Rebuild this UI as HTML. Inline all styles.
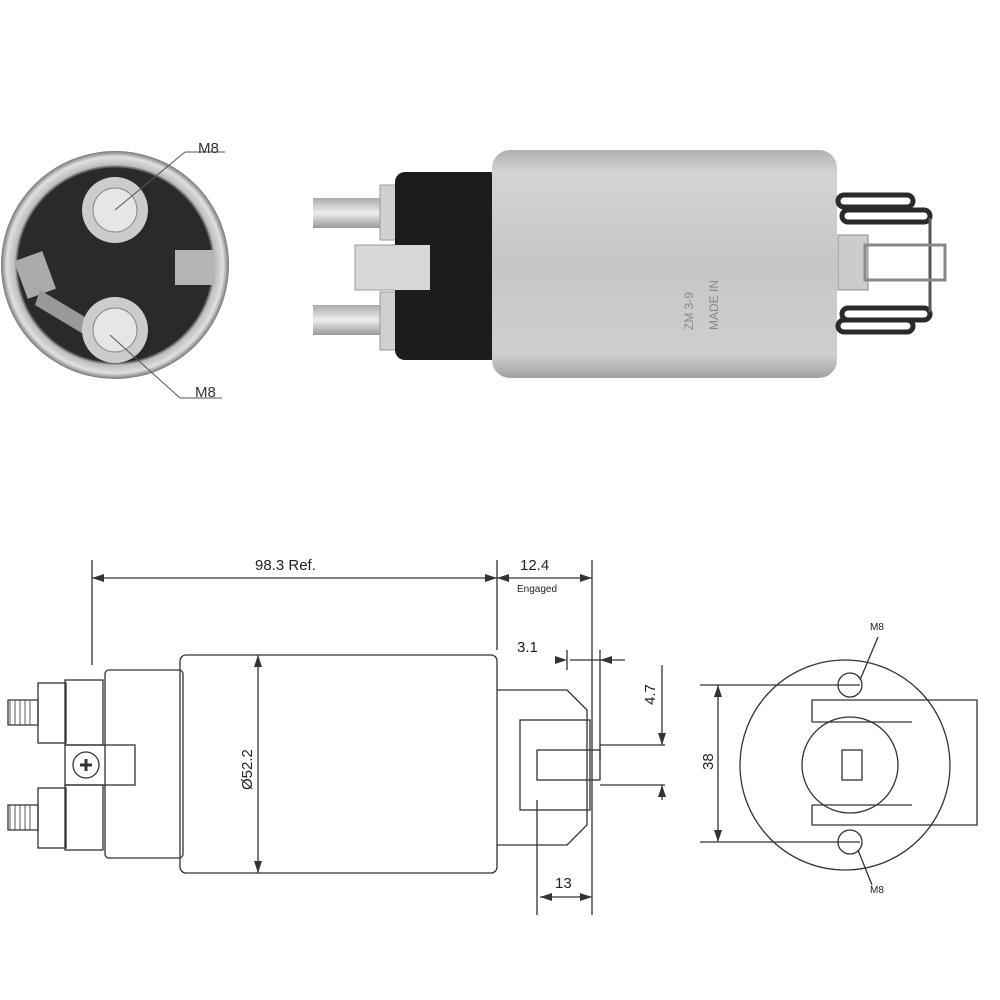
<!DOCTYPE html>
<html><head><meta charset="utf-8"><style>
html,body{margin:0;padding:0;background:#fff;width:1000px;height:1000px;overflow:hidden}
svg text{font-family:"Liberation Sans",sans-serif}
</style></head><body>
<svg width="1000" height="1000" viewBox="0 0 1000 1000" xmlns="http://www.w3.org/2000/svg">
<defs>
<linearGradient id="cyl" x1="0" y1="0" x2="0" y2="1">
<stop offset="0" stop-color="#b0b0b0"/><stop offset="0.1" stop-color="#d4d4d4"/>
<stop offset="0.5" stop-color="#c6c6c6"/><stop offset="0.9" stop-color="#cfcfcf"/><stop offset="1" stop-color="#a0a0a0"/></linearGradient>
<radialGradient id="ring" cx="0.5" cy="0.5" r="0.5">
<stop offset="0.85" stop-color="#303030"/><stop offset="0.88" stop-color="#bdbdbd"/>
<stop offset="0.95" stop-color="#e0e0e0"/><stop offset="1" stop-color="#777"/></radialGradient>
<linearGradient id="stud" x1="0" y1="0" x2="0" y2="1">
<stop offset="0" stop-color="#aaa"/><stop offset="0.5" stop-color="#eee"/><stop offset="1" stop-color="#999"/></linearGradient>
</defs>

<!-- Top-left end view -->
<circle cx="115" cy="265" r="114" fill="url(#ring)"/>
<circle cx="115" cy="265" r="97" fill="#2a2a2a"/>
<rect x="20" y="255" width="30" height="40" fill="#aaa" transform="rotate(-20 35 275)"/>
<rect x="175" y="250" width="40" height="35" fill="#b5b5b5"/>
<path d="M40 290 L90 320 L85 335 L35 305Z" fill="#999"/>
<circle cx="115" cy="210" r="33" fill="#ccc"/><circle cx="115" cy="210" r="22" fill="#e6e6e6" stroke="#888"/>
<circle cx="115" cy="330" r="33" fill="#ccc"/><circle cx="115" cy="330" r="22" fill="#e6e6e6" stroke="#888"/>
<line x1="115" y1="210" x2="185" y2="152" stroke="#555"/><line x1="185" y1="152" x2="225" y2="152" stroke="#555"/>
<text x="198" y="153" font-size="15" fill="#333">M8</text>
<line x1="110" y1="335" x2="180" y2="398" stroke="#555"/><line x1="180" y1="398" x2="222" y2="398" stroke="#555"/>
<text x="195" y="397" font-size="15" fill="#333">M8</text>

<!-- Top-right photo -->
<rect x="313" y="198" width="75" height="30" fill="url(#stud)"/>
<rect x="313" y="305" width="75" height="30" fill="url(#stud)"/>
<rect x="380" y="185" width="30" height="55" fill="#d0d0d0" stroke="#999"/>
<rect x="380" y="292" width="30" height="58" fill="#d0d0d0" stroke="#999"/>
<rect x="355" y="245" width="75" height="45" fill="#d8d8d8" stroke="#999"/>
<rect x="395" y="172" width="105" height="188" rx="10" fill="#1c1c1c"/>
<rect x="395" y="245" width="35" height="45" fill="#d8d8d8"/>
<rect x="492" y="150" width="345" height="228" rx="18" fill="url(#cyl)"/>
<g stroke="#2a2a2a" stroke-width="5" fill="none">
<rect x="838" y="195" width="75" height="12" rx="6"/><rect x="842" y="210" width="88" height="12" rx="6"/>
<rect x="842" y="308" width="88" height="12" rx="6"/><rect x="838" y="320" width="75" height="12" rx="6"/></g>
<line x1="930" y1="218" x2="930" y2="312" stroke="#555" stroke-width="3"/>
<rect x="838" y="235" width="30" height="55" fill="#ccc" stroke="#888"/>
<rect x="865" y="245" width="80" height="35" fill="none" stroke="#888" stroke-width="3"/>
<text transform="translate(693,330) rotate(-90)" font-size="12" fill="#888">ZM 3-9</text>
<text transform="translate(718,330) rotate(-90)" font-size="12" fill="#888">MADE IN</text>

<!-- Bottom drawing -->
<g stroke="#333" fill="none" stroke-width="1.3">
<rect x="180" y="655" width="317" height="218" rx="6"/>
<rect x="105" y="670" width="78" height="188" rx="4"/>
<rect x="65" y="680" width="38" height="65"/><rect x="65" y="785" width="38" height="65"/>
<rect x="38" y="683" width="28" height="60"/><rect x="38" y="788" width="28" height="60"/>
<path d="M8 700 h30 v25 h-30z M8 805 h30 v25 h-30z"/>
<path d="M10 700 v25 M15 700 v25 M20 700 v25 M25 700 v25 M30 700 v25 M10 805 v25 M15 805 v25 M20 805 v25 M25 805 v25 M30 805 v25" stroke-width="0.8"/>
<rect x="65" y="745" width="70" height="40"/>
<circle cx="86" cy="765" r="13"/>
<path d="M497 690 h70 l20 20 v115 l-20 20 h-70"/>
<rect x="520" y="720" width="70" height="90"/>
<rect x="537" y="750" width="63" height="30"/>
<path d="M92 665 V560 M497 650 V560 M592 560 V915 M537 800 V915 M567 650 V670 M600 650 V760"/>
<path d="M92 578 H497 M497 578 H592 M540 897 H592 M570 660 H625 M600 745 H665 M600 785 H665 M662 665 V745 M662 785 V800 M258 655 V873 M700 685 H860 M700 842 H860 M718 685 V842"/>
<circle cx="845" cy="765" r="105"/>
<circle cx="850" cy="765" r="48"/>
<rect x="842" y="750" width="20" height="30"/>
<path d="M812 722 V700 h165 v125 h-165 v-20 M812 722 h100 M812 805 h100"/>
<circle cx="850" cy="685" r="12"/><circle cx="850" cy="842" r="12"/>
<path d="M860 680 L878 637 M858 850 L872 885"/>
</g>
<path d="M80 765h12M86 759v12" stroke="#333" stroke-width="3"/>
<g fill="#333">
<path d="M92 578 l12 -4 v8z M497 578 l-12 -4 v8z M497 578 l12 -4 v8z M592 578 l-12 -4 v8z"/>
<path d="M258 655 l-4 12 h8z M258 873 l-4 -12 h8z M718 685 l-4 12 h8z M718 842 l-4 -12 h8z"/>
<path d="M567 660 l-12 -4 v8z M600 660 l12 -4 v8z M662 745 l-4 -12 h8z M662 785 l-4 12 h8z M540 897 l12 -4 v8z M592 897 l-12 -4 v8z"/>
</g>
<text x="255" y="570" font-size="15" fill="#222">98.3 Ref.</text>
<text x="520" y="570" font-size="15" fill="#222">12.4</text>
<text x="517" y="592" font-size="10" fill="#222">Engaged</text>
<text x="517" y="652" font-size="15" fill="#222">3.1</text>
<text transform="translate(655,705) rotate(-90)" font-size="15" fill="#222">4.7</text>
<text transform="translate(713,770) rotate(-90)" font-size="15" fill="#222">38</text>
<text transform="translate(252,790) rotate(-90)" font-size="15" fill="#222">Ø52.2</text>
<text x="555" y="888" font-size="15" fill="#222">13</text>
<text x="870" y="630" font-size="10" fill="#222">M8</text>
<text x="870" y="893" font-size="10" fill="#222">M8</text>
</svg>
</body></html>
